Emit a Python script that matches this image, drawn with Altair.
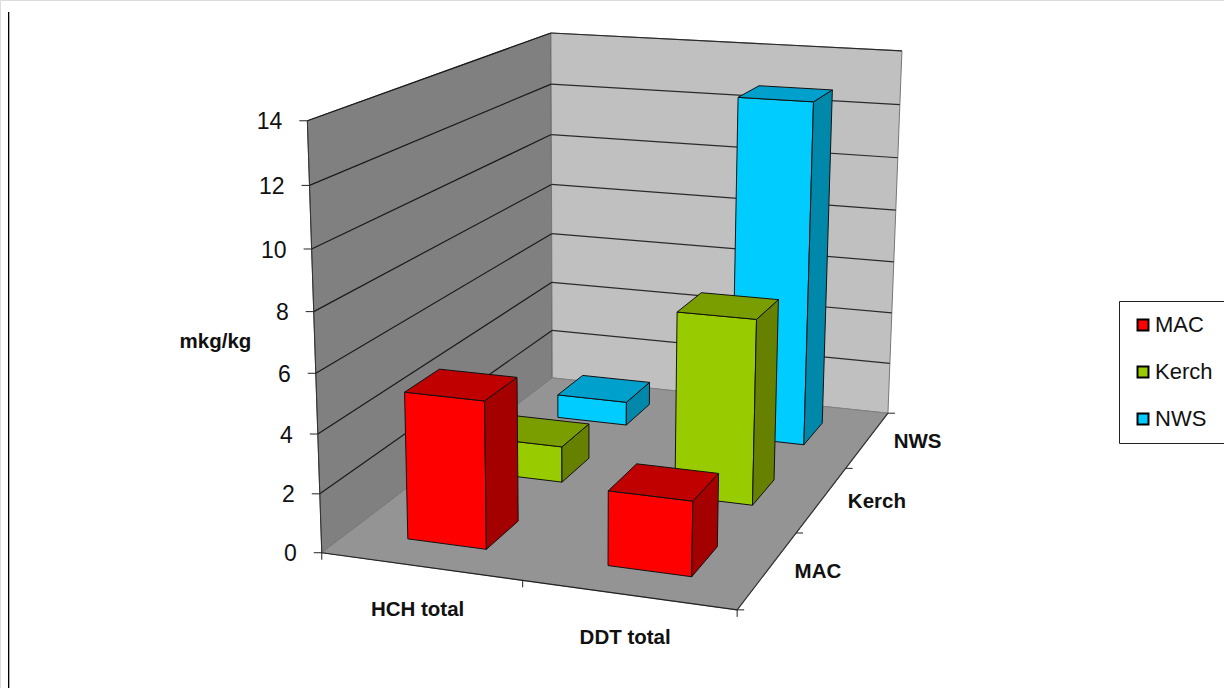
import altair as alt
import numpy as np

# Chart content
categories = ["HCH total", "DDT total"]
series = ["MAC", "Kerch", "NWS"]
mac_values = [5.0, 2.5]
kerch_values = [1.3, 6.55]
nws_values = [0.9, 12.75]
value_ticks = [0, 2, 4, 6, 8, 10, 12, 14]
y_title = "mkg/kg"

VALUE_MAX = 14
BAR_WIDTH = 0.2      # share of the floor width taken by one bar
BAR_DEPTH = 0.1333   # share of the floor depth taken by one bar

front_colors = ["#ff0000", "#99cc00", "#00ccff"]
side_colors = ["#a50000", "#668000", "#0088aa"]
top_colors = ["#c00000", "#7a9e00", "#00a0cc"]
edge_color = "#111111"

# Camera calibration: (x, z, value) in the chart's box -> position on the page
box_points = [
    (0, 0, 0), (1, 0, 0), (1, 1, 0), (0, 1, 0),
    (0, 0, 14), (0, 1, 14), (1, 1, 14), (0, 0, 8),
]
page_points = [
    (322, 553), (737, 610), (888, 413), (552, 378),
    (307, 121), (551, 33), (902, 51), (314, 311),
]


def solve_camera(src, dst):
    rows = []
    for (x, z, v), (u, w) in zip(src, dst):
        X = [x, z, v / VALUE_MAX, 1]
        rows.append(X + [0, 0, 0, 0] + [-u * c for c in X])
        rows.append([0, 0, 0, 0] + X + [-w * c for c in X])
    return np.linalg.svd(np.array(rows, float))[2][-1].reshape(3, 4)


CAMERA = solve_camera(box_points, page_points)


def project(x, z, v):
    a, b, c = CAMERA @ np.array([x, z, v / VALUE_MAX, 1.0])
    return [float(a / c), float(b / c)]


def polygon(corners, fill, stroke, width=1.0):
    ring = [project(*c) for c in corners]
    ring.append(ring[0])
    return {"type": "Feature", "geometry": {"type": "Polygon", "coordinates": [ring]},
            "properties": {"fill": fill, "stroke": stroke, "sw": width}}


def segment(a, b, stroke, width=1.0, shift=(0, 0)):
    pa, pb = project(*a), project(*b)
    pb = [pb[0] + shift[0], pb[1] + shift[1]]
    return {"type": "Feature", "geometry": {"type": "LineString", "coordinates": [pa, pb]},
            "properties": {"fill": "none", "stroke": stroke, "sw": width}}


features = []

# Walls and floor
features.append(polygon([(0, 0, 0), (0, 1, 0), (0, 1, 14), (0, 0, 14)], "#808080", "#555555"))
features.append(polygon([(0, 1, 0), (1, 1, 0), (1, 1, 14), (0, 1, 14)], "#c0c0c0", "#777777"))
features.append(polygon([(0, 0, 0), (1, 0, 0), (1, 1, 0), (0, 1, 0)], "#949494", "#808080"))

# Gridlines and axis ticks
for v in value_ticks:
    if v > 0:
        features.append(segment((0, 0, v), (0, 1, v), "#1a1a1a", 1.2))
        features.append(segment((0, 1, v), (1, 1, v), "#2a2a2a", 1.2))
    features.append(segment((0, 0, v), (0, 0, v), "#222222", shift=(-8, 0)))
features.append(segment((0, 0, 0), (0, 0, 14), "#333333"))
features.append(segment((0, 0, 0), (1, 0, 0), "#222222", 1.2))
features.append(segment((1, 0, 0), (1, 1, 0), "#333333", 1.2))
for t in [0, 0.5, 1]:
    features.append(segment((t, 0, 0), (t, 0, 0), "#222222", shift=(0, 7)))
for t in [0, 1 / 3, 2 / 3, 1]:
    features.append(segment((1, t, 0), (1, t, 0), "#222222", shift=(7, 0)))

# Bars, painted from the back row to the front row
rows = [mac_values, kerch_values, nws_values]
for r in [2, 1, 0]:
    for c in [0, 1]:
        v = rows[r][c]
        x0 = (c + 0.5) / 2 - BAR_WIDTH / 2
        x1 = x0 + BAR_WIDTH
        z0 = (r + 0.5) / 3 - BAR_DEPTH / 2
        z1 = z0 + BAR_DEPTH
        features.append(polygon([(x0, z0, 0), (x1, z0, 0), (x1, z0, v), (x0, z0, v)], front_colors[r], edge_color))
        features.append(polygon([(x1, z0, 0), (x1, z1, 0), (x1, z1, v), (x1, z0, v)], side_colors[r], edge_color))
        features.append(polygon([(x0, z0, v), (x1, z0, v), (x1, z1, v), (x0, z1, v)], top_colors[r], edge_color))

shapes = (
    alt.Chart(alt.Data(values=features))
    .mark_geoshape()
    .encode(
        fill=alt.Fill("properties.fill:N", scale=None),
        stroke=alt.Stroke("properties.stroke:N", scale=None),
        strokeWidth=alt.StrokeWidth("properties.sw:Q", scale=None),
    )
    .project(type="identity", scale=1, translate=[0, 0])
)

page_x = alt.Scale(domain=[0, 1224], range=[0, 1224])
page_y = alt.Scale(domain=[0, 688], range=[0, 688])


def labels(rows_, align, weight, size):
    return (
        alt.Chart(alt.Data(values=rows_))
        .mark_text(align=align, baseline="middle", font="Liberation Sans",
                   fontSize=size, fontWeight=weight, color="#111111")
        .encode(
            x=alt.X("px:Q", scale=page_x, axis=None),
            y=alt.Y("py:Q", scale=page_y, axis=None),
            text="label:N",
        )
    )


def at(anchor, dx, dy, label):
    p = project(*anchor)
    return {"px": p[0] + dx, "py": p[1] + dy, "label": label}


depth_label_shift = [50, 55, 50]

value_labels = labels([at((0, 0, v), -25, 1.5, str(v)) for v in value_ticks], "right", "normal", 23)
category_labels = labels(
    [at(((i + 0.5) / 2, 0, 0), -3, 43.5, name) for i, name in enumerate(categories)]
    + [at((1, (i + 0.5) / 3, 0), depth_label_shift[i], 2.5, name) for i, name in enumerate(series)],
    "center", "bold", 20.5,
)
title_label = labels([{"px": 215.5, "py": 342, "label": y_title}], "center", "bold", 20.5)

# Thin vertical rule along the left side of the page, with its grey shadow
left_rule = alt.Chart(alt.Data(values=[{}])).mark_rule(color="#000000", strokeWidth=1).encode(
    x=alt.value(8.5), y=alt.value(12), y2=alt.value(688)
)
left_rule_shadow = alt.Chart(alt.Data(values=[{}])).mark_rule(color="#b0b0b0", strokeWidth=1).encode(
    x=alt.value(9.5), y=alt.value(12), y2=alt.value(688)
)

# Off-page squares that carry the legend
legend_layer = (
    alt.Chart(alt.Data(values=[{"series": s} for s in series]))
    .mark_square(stroke="#000000", strokeWidth=2, size=120, opacity=1)
    .encode(
        x=alt.value(-60),
        y=alt.value(-60),
        color=alt.Color(
            "series:N",
            scale=alt.Scale(domain=series, range=front_colors),
            legend=alt.Legend(
                title=None, orient="none", legendX=1119, legendY=301,
                padding=13, symbolOffset=0, symbolType="square", symbolSize=120,
                symbolStrokeColor="#000000", symbolStrokeWidth=2,
                labelFont="Liberation Sans", labelFontSize=22, labelColor="#111111",
                labelOffset=1, rowPadding=25, strokeColor="#222222",
                fillColor="#ffffff",
            ),
        ),
    )
)

chart = (
    alt.layer(shapes, value_labels, category_labels, title_label,
              left_rule, left_rule_shadow, legend_layer)
    .properties(width=1224, height=688, padding=0, autosize=alt.AutoSizeParams(type="none"))
    .configure_view(stroke=None)
    .configure(background="#ffffff")
)

chart.save("out.html", embed_options={"renderer": "svg", "actions": False})
